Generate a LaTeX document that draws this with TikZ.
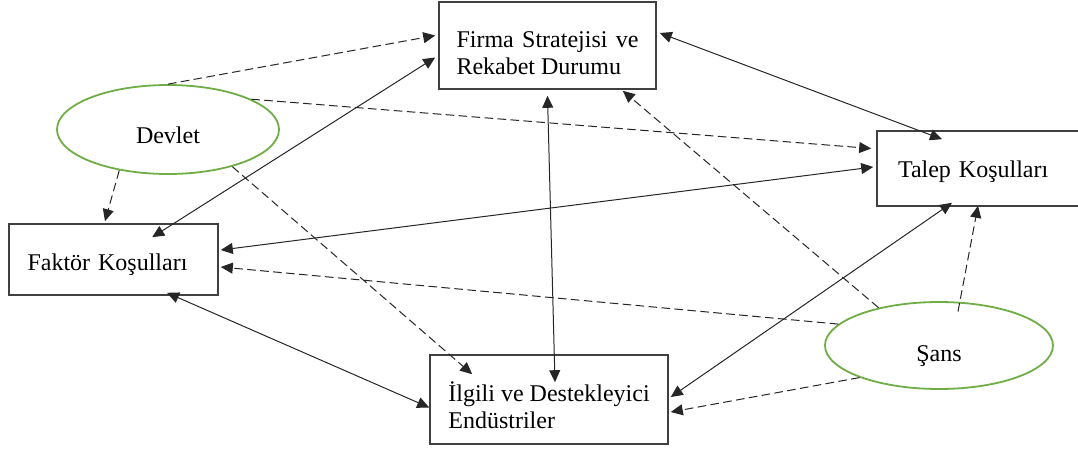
\documentclass[tikz,border=0pt]{standalone}
\usepackage{fontspec}
\setmainfont{Liberation Serif}
\usetikzlibrary{arrows.meta,shapes.geometric}
\definecolor{ovalgreen}{RGB}{112,173,71}

\begin{document}
\begin{tikzpicture}[x=0.5pt,y=-0.5pt,
	font=\fontsize{12}{13.5}\selectfont,
	box/.style={draw=black!75,line width=0.8pt,rectangle,inner ysep=0pt},
	oval/.style={draw=ovalgreen,line width=0.9pt,ellipse,inner sep=0pt,text depth=0pt},
	link/.style={{Triangle[length=6pt,width=5.5pt]}-{Triangle[length=6pt,width=5.5pt]},line width=0.5pt,draw=black!85},
	infl/.style={-{Triangle[length=6pt,width=5.5pt]},line width=0.5pt,draw=black!85,dash pattern=on 4.3pt off 2.2pt}]
	\useasboundingbox (0,0) rectangle (1078,450);
	% the four corners of the diamond
	\node[box,minimum width=108.5pt,minimum height=43.5pt,text width=91pt,align=justify] (firma) at (547.5,45.5) {\rule{0pt}{16pt}Firma Stratejisi ve Rekabet Durumu};
	\node[box,minimum height=37.5pt,text width=81.5pt,inner xsep=10.5pt,text height=8.5pt,text depth=0pt,align=left] (talep) at (979.5,168.5) {Talep Koşulları};
	\node[box,minimum height=35.5pt,text width=86pt,inner xsep=9.25pt,text height=10.5pt,text depth=0pt,align=left] (faktor) at (113.5,259.5) {Faktör Koşulları};
	\node[box,minimum width=119pt,minimum height=44.5pt,align=left] (ilgili) at (549,399.5) {\rule{0pt}{16pt}İlgili ve Destekleyici\\Endüstriler};
	% outside influences
	\node[oval,minimum width=111pt,minimum height=44.5pt,text height=13.8pt] (devlet) at (168,129.5) {Devlet};
	\node[oval,minimum width=114pt,minimum height=43.5pt,text height=16pt] (sans) at (939,345.5) {Şans};
	\draw[link] ([shift={(144,14)}]faktor.north west) -- ([shift={(-3,12)}]firma.west);
	\draw[link] ([shift={(2,-9.5)}]faktor.east) -- ([shift={(-3,-1.5)}]talep.west);
	\draw[link] ([shift={(53.5,-3)}]faktor.south) -- ([shift={(0,8)}]ilgili.west);
	\draw[link] ([shift={(0,6)}]firma.south) -- ([shift={(6,28)}]ilgili.north);
	\draw[link] ([shift={(3,-12.5)}]firma.east) -- ([shift={(-37.5,9)}]talep.north);
	\draw[link] ([shift={(2,-2.5)}]ilgili.east) -- ([shift={(-27.5,-4)}]talep.south);
	\draw[infl] (devlet.north) -- ([shift={(-3,-10)}]firma.west);
	\draw[infl] (devlet.20) -- ([shift={(-5,-20)}]talep.west);
	\draw[infl] (devlet.220) -- ([shift={(-8.5,-2)}]faktor.north);
	\draw[infl] (devlet.-30) -- ([shift={(43,20)}]ilgili.north west);
	\draw[infl] (sans.168) -- ([shift={(2,7.5)}]faktor.east);
	\draw[infl] (sans.148) -- ([shift={(-34,1)}]firma.south east);
	\draw[infl] ([shift={(19,-34)}]sans.center) -- ([shift={(-1.5,-1)}]talep.south);
	\draw[infl] (sans.202) -- ([shift={(2,12.5)}]ilgili.east);
\end{tikzpicture}
\end{document}
